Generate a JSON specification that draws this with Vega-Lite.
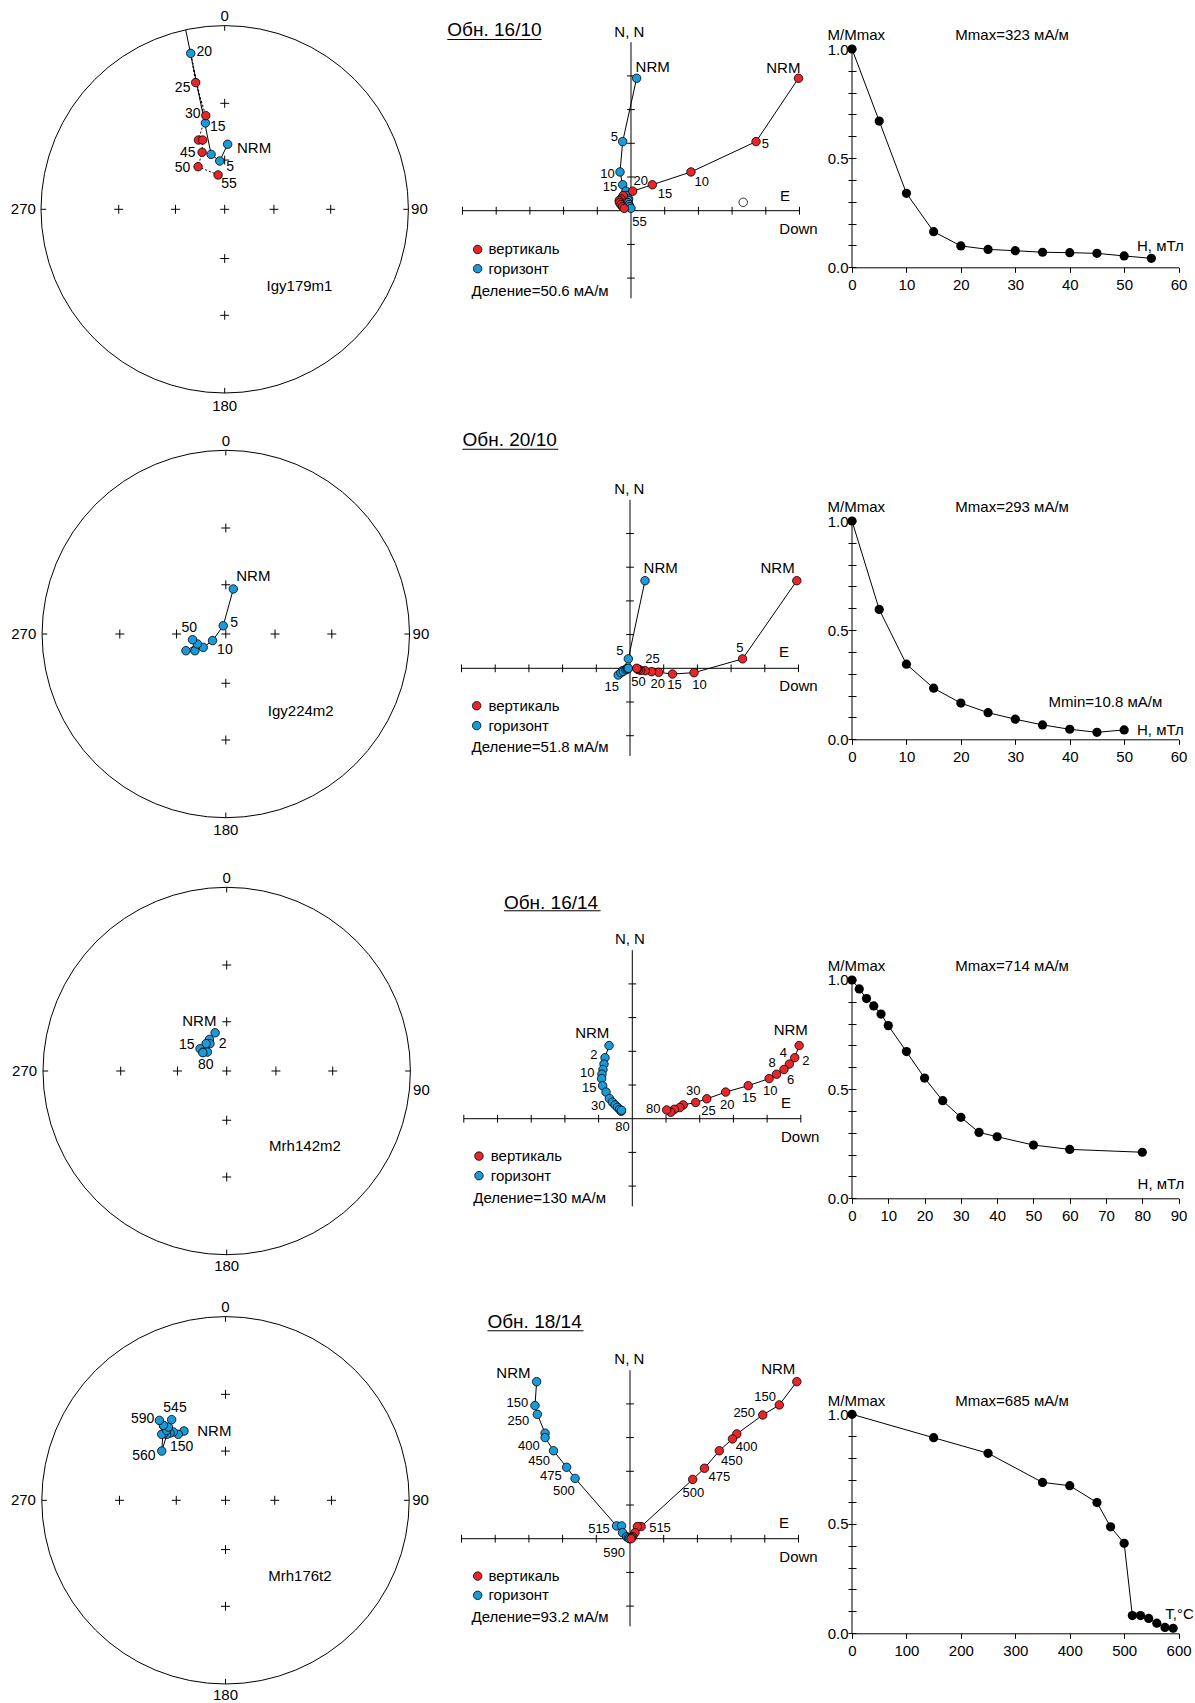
{
"$schema": "https://vega.github.io/schema/vega-lite/v6.json",
"padding": 0,
"background": "white",
"config": {"font": "Liberation Sans", "view": {"stroke": null}},
"datasets": {
"ctr": [{"x": 0, "y": 0}],
"cross": [{"x":0,"y":0},{"x":0.268,"y":0},{"x":0.577,"y":0},{"x":-0.268,"y":0},{"x":-0.577,"y":0},{"x":0,"y":0.268},{"x":0,"y":0.577},{"x":0,"y":-0.268},{"x":0,"y":-0.577}],
"rim": [{"x":0,"y":0.972,"x2":0,"y2":1.0},{"x":0.972,"y":0,"x2":1.0,"y2":0},{"x":0,"y":-0.972,"x2":0,"y2":-1.0},{"x":-0.972,"y":0,"x2":-1.0,"y2":0}],
"s1": [
{"i":0,"s":"NRM","hem":"low","x":0.016,"y":0.354},
{"i":1,"s":"5","hem":"low","x":-0.027,"y":0.263},
{"i":2,"s":"10","hem":"low","x":-0.074,"y":0.299},
{"i":3,"s":"15","hem":"low","x":-0.105,"y":0.470},
{"i":4,"s":"20","hem":"low","x":-0.185,"y":0.849},
{"i":5,"s":"25","hem":"up","x":-0.158,"y":0.690},
{"i":6,"s":"30","hem":"up","x":-0.103,"y":0.510},
{"i":7,"s":"35","hem":"up","x":-0.143,"y":0.377},
{"i":8,"s":"40","hem":"up","x":-0.120,"y":0.377},
{"i":9,"s":"45","hem":"up","x":-0.123,"y":0.310},
{"i":10,"s":"50","hem":"up","x":-0.145,"y":0.232},
{"i":11,"s":"55","hem":"up","x":-0.036,"y":0.187}],
"s1solid": [{"i":0,"x":0.016,"y":0.354},{"i":1,"x":-0.027,"y":0.263},{"i":2,"x":-0.074,"y":0.299},{"i":3,"x":-0.212,"y":0.976}],
"s1lab": [
{"t":"NRM","x":0.160,"y":0.332,"k":"b"},
{"t":"5","x":0.029,"y":0.232,"k":"n"},
{"t":"15","x":-0.038,"y":0.450,"k":"n"},
{"t":"20","x":-0.111,"y":0.855,"k":"n"},
{"t":"25","x":-0.229,"y":0.659,"k":"n"},
{"t":"30","x":-0.174,"y":0.517,"k":"n"},
{"t":"45","x":-0.201,"y":0.309,"k":"n"},
{"t":"50","x":-0.230,"y":0.223,"k":"n"},
{"t":"55","x":0.024,"y":0.136,"k":"n"},
{"t":"Igy179m1","x":0.407,"y":-0.416,"k":"b"},
{"t":"0","x":0,"y":1.054,"k":"b"},
{"t":"90","x":1.06,"y":0,"k":"b"},
{"t":"180","x":0,"y":-1.069,"k":"b"},
{"t":"270","x":-1.096,"y":0,"k":"b"}],
"s2": [
{"i":0,"s":"NRM","hem":"low","x":0.041,"y":0.245},
{"i":1,"s":"5","hem":"low","x":-0.014,"y":0.045},
{"i":2,"s":"10","hem":"low","x":-0.072,"y":-0.036},
{"i":3,"s":"15","hem":"low","x":-0.123,"y":-0.073},
{"i":4,"s":"20","hem":"low","x":-0.168,"y":-0.091},
{"i":5,"s":"25","hem":"low","x":-0.217,"y":-0.091},
{"i":6,"s":"30","hem":"low","x":-0.155,"y":-0.054},
{"i":7,"s":"50","hem":"low","x":-0.181,"y":-0.031}],
"s2lab": [
{"t":"NRM","x":0.150,"y":0.314,"k":"b"},
{"t":"5","x":0.045,"y":0.060,"k":"n"},
{"t":"10","x":-0.005,"y":-0.085,"k":"n"},
{"t":"50","x":-0.199,"y":0.031,"k":"n"},
{"t":"Igy224m2","x":0.408,"y":-0.418,"k":"b"},
{"t":"0","x":0,"y":1.05,"k":"b"},
{"t":"90","x":1.062,"y":0,"k":"b"},
{"t":"180","x":0,"y":-1.068,"k":"b"},
{"t":"270","x":-1.10,"y":0,"k":"b"}],
"s3": [
{"i":0,"s":"NRM","hem":"low","x":-0.063,"y":0.208},
{"i":1,"s":"2","hem":"low","x":-0.094,"y":0.172},
{"i":2,"s":"5","hem":"low","x":-0.091,"y":0.149},
{"i":3,"s":"10","hem":"low","x":-0.112,"y":0.149},
{"i":4,"s":"15","hem":"low","x":-0.145,"y":0.121},
{"i":5,"s":"30","hem":"low","x":-0.127,"y":0.103},
{"i":6,"s":"50","hem":"low","x":-0.105,"y":0.103},
{"i":7,"s":"80","hem":"low","x":-0.130,"y":0.100}],
"s3lab": [
{"t":"NRM","x":-0.149,"y":0.272,"k":"b"},
{"t":"2","x":-0.022,"y":0.149,"k":"n"},
{"t":"15","x":-0.217,"y":0.143,"k":"n"},
{"t":"80","x":-0.114,"y":0.031,"k":"n"},
{"t":"Mrh142m2","x":0.426,"y":-0.409,"k":"b"},
{"t":"0","x":0,"y":1.05,"k":"b"},
{"t":"90","x":1.06,"y":-0.101,"k":"b"},
{"t":"180","x":0,"y":-1.06,"k":"b"},
{"t":"270","x":-1.10,"y":0,"k":"b"}],
"s4": [
{"i":0,"s":"NRM","hem":"low","x":-0.226,"y":0.377},
{"i":1,"s":"150","hem":"low","x":-0.257,"y":0.359},
{"i":2,"s":"250","hem":"low","x":-0.284,"y":0.372},
{"i":3,"s":"350","hem":"low","x":-0.302,"y":0.366},
{"i":4,"s":"400","hem":"low","x":-0.320,"y":0.359},
{"i":5,"s":"450","hem":"low","x":-0.335,"y":0.363},
{"i":6,"s":"475","hem":"low","x":-0.347,"y":0.359},
{"i":7,"s":"500","hem":"low","x":-0.335,"y":0.403},
{"i":8,"s":"515","hem":"low","x":-0.320,"y":0.381},
{"i":9,"s":"530","hem":"low","x":-0.311,"y":0.399},
{"i":10,"s":"545","hem":"low","x":-0.293,"y":0.439},
{"i":11,"s":"560","hem":"low","x":-0.347,"y":0.268},
{"i":12,"s":"575","hem":"low","x":-0.338,"y":0.408},
{"i":13,"s":"590","hem":"low","x":-0.360,"y":0.435}],
"s4lab": [
{"t":"545","x":-0.275,"y":0.504,"k":"n"},
{"t":"590","x":-0.451,"y":0.444,"k":"n"},
{"t":"NRM","x":-0.061,"y":0.377,"k":"b"},
{"t":"150","x":-0.239,"y":0.290,"k":"n"},
{"t":"560","x":-0.444,"y":0.241,"k":"n"},
{"t":"Mrh176t2","x":0.405,"y":-0.413,"k":"b"},
{"t":"0","x":0,"y":1.052,"k":"b"},
{"t":"90","x":1.062,"y":0,"k":"b"},
{"t":"180","x":0,"y":-1.06,"k":"b"},
{"t":"270","x":-1.10,"y":0,"k":"b"}],
"zax": [{"x":-5,"y":0,"x2":5,"y2":0},{"x":0,"y":-2.6,"x2":0,"y2":5}],
"zth": [{"x":-5,"y":0},{"x":-4,"y":0},{"x":-3,"y":0},{"x":-2,"y":0},{"x":-1,"y":0},{"x":1,"y":0},{"x":2,"y":0},{"x":3,"y":0},{"x":4,"y":0},{"x":5,"y":0}],
"ztv": [{"x":0,"y":-2},{"x":0,"y":-1},{"x":0,"y":1},{"x":0,"y":2},{"x":0,"y":3},{"x":0,"y":4}],
"z1": [
{"p":"h","i":0,"x":0.168,"y":3.93},{"p":"h","i":1,"x":-0.247,"y":2.05},{"p":"h","i":2,"x":-0.326,"y":1.15},{"p":"h","i":3,"x":-0.247,"y":0.77},{"p":"h","i":4,"x":-0.15,"y":0.58},{"p":"h","i":5,"x":-0.12,"y":0.45},{"p":"h","i":6,"x":-0.07,"y":0.35},{"p":"h","i":7,"x":-0.08,"y":0.30},{"p":"h","i":8,"x":-0.10,"y":0.24},{"p":"h","i":9,"x":-0.06,"y":0.18},{"p":"h","i":10,"x":-0.04,"y":0.12},{"p":"h","i":11,"x":0.0,"y":0.07},
{"p":"v","i":0,"x":4.97,"y":3.93},{"p":"v","i":1,"x":3.71,"y":2.05},{"p":"v","i":2,"x":1.78,"y":1.15},{"p":"v","i":3,"x":0.633,"y":0.77},{"p":"v","i":4,"x":0.05,"y":0.58},{"p":"v","i":5,"x":-0.23,"y":0.45},{"p":"v","i":6,"x":-0.30,"y":0.35},{"p":"v","i":7,"x":-0.35,"y":0.30},{"p":"v","i":8,"x":-0.34,"y":0.24},{"p":"v","i":9,"x":-0.30,"y":0.18},{"p":"v","i":10,"x":-0.25,"y":0.12},{"p":"v","i":11,"x":-0.20,"y":0.07}],
"z1o": [{"x":3.33,"y":0.25}],
"z1lab": [
{"t":"NRM","x":0.643,"y":4.27,"k":"b"},
{"t":"NRM","x":4.52,"y":4.24,"k":"b"},
{"t":"5","x":-0.49,"y":2.18,"k":"n"},
{"t":"5","x":3.99,"y":1.98,"k":"n"},
{"t":"10","x":-0.70,"y":1.09,"k":"n"},
{"t":"10","x":2.10,"y":0.86,"k":"n"},
{"t":"15","x":-0.62,"y":0.69,"k":"n"},
{"t":"15","x":1.01,"y":0.51,"k":"n"},
{"t":"20","x":0.29,"y":0.88,"k":"n"},
{"t":"55","x":0.25,"y":-0.33,"k":"n"},
{"t":"N, N","x":-0.05,"y":5.31,"k":"b"},
{"t":"E","x":4.57,"y":0.44,"k":"b"},
{"t":"Down","x":4.97,"y":-0.55,"k":"b"}],
"z1L": [
{"t":"Обн. 16/10","x":-5.45,"y":5.36,"k":"title"},
{"t":"вертикаль","x":-4.23,"y":-1.15,"k":"leg"},
{"t":"горизонт","x":-4.23,"y":-1.72,"k":"leg"},
{"t":"Деление=50.6 мА/м","x":-4.73,"y":-2.38,"k":"leg"}],
"z1u": [{"x":-5.45,"x2":-2.65,"y":5.08}],
"z1leg": [{"p":"v","x":-4.55,"y":-1.15},{"p":"h","x":-4.55,"y":-1.72}],
"z2": [
{"p":"h","i":0,"x":0.445,"y":2.60},{"p":"h","i":1,"x":-0.05,"y":0.28},{"p":"h","i":2,"x":-0.22,"y":-0.07},{"p":"h","i":3,"x":-0.35,"y":-0.20},{"p":"h","i":4,"x":-0.27,"y":-0.13},{"p":"h","i":5,"x":-0.20,"y":-0.09},{"p":"h","i":6,"x":-0.10,"y":-0.01},{"p":"h","i":7,"x":-0.12,"y":-0.04},{"p":"h","i":8,"x":-0.08,"y":-0.02},{"p":"h","i":9,"x":-0.06,"y":-0.01},{"p":"h","i":10,"x":-0.05,"y":0.0},
{"p":"v","i":0,"x":4.95,"y":2.60},{"p":"v","i":1,"x":3.34,"y":0.28},{"p":"v","i":2,"x":1.90,"y":-0.13},{"p":"v","i":3,"x":1.26,"y":-0.17},{"p":"v","i":4,"x":0.85,"y":-0.12},{"p":"v","i":5,"x":0.64,"y":-0.10},{"p":"v","i":6,"x":0.45,"y":-0.07},{"p":"v","i":7,"x":0.32,"y":-0.06},{"p":"v","i":8,"x":0.26,"y":-0.04},{"p":"v","i":9,"x":0.22,"y":-0.02},{"p":"v","i":10,"x":0.20,"y":0.0}],
"z2lab": [
{"t":"NRM","x":0.91,"y":2.97,"k":"b"},
{"t":"NRM","x":4.38,"y":2.97,"k":"b"},
{"t":"5","x":-0.30,"y":0.52,"k":"n"},
{"t":"5","x":3.26,"y":0.59,"k":"n"},
{"t":"25","x":0.67,"y":0.27,"k":"n"},
{"t":"50","x":0.25,"y":-0.40,"k":"n"},
{"t":"20","x":0.82,"y":-0.46,"k":"n"},
{"t":"15","x":1.32,"y":-0.51,"k":"n"},
{"t":"10","x":2.06,"y":-0.49,"k":"n"},
{"t":"15","x":-0.54,"y":-0.54,"k":"n"},
{"t":"N, N","x":-0.02,"y":5.32,"k":"b"},
{"t":"E","x":4.57,"y":0.49,"k":"b"},
{"t":"Down","x":5.0,"y":-0.52,"k":"b"}],
"z2L": [
{"t":"Обн. 20/10","x":-4.97,"y":6.78,"k":"title"},
{"t":"вертикаль","x":-4.20,"y":-1.11,"k":"leg"},
{"t":"горизонт","x":-4.20,"y":-1.70,"k":"leg"},
{"t":"Деление=51.8 мА/м","x":-4.70,"y":-2.34,"k":"leg"}],
"z2u": [{"x":-4.97,"x2":-2.13,"y":6.50}],
"z2leg": [{"p":"v","x":-4.55,"y":-1.11},{"p":"h","x":-4.55,"y":-1.70}],
"z3": [
{"p":"h","i":0,"x":-0.69,"y":2.17},{"p":"h","i":1,"x":-0.81,"y":1.81},{"p":"h","i":2,"x":-0.84,"y":1.62},{"p":"h","i":3,"x":-0.87,"y":1.46},{"p":"h","i":4,"x":-0.90,"y":1.32},{"p":"h","i":5,"x":-0.91,"y":1.19},{"p":"h","i":6,"x":-0.88,"y":0.98},{"p":"h","i":7,"x":-0.78,"y":0.79},{"p":"h","i":8,"x":-0.68,"y":0.60},{"p":"h","i":9,"x":-0.59,"y":0.49},{"p":"h","i":10,"x":-0.51,"y":0.41},{"p":"h","i":11,"x":-0.44,"y":0.34},{"p":"h","i":12,"x":-0.38,"y":0.28},{"p":"h","i":13,"x":-0.33,"y":0.22},{"p":"h","i":14,"x":-0.32,"y":0.25},
{"p":"v","i":0,"x":4.95,"y":2.17},{"p":"v","i":1,"x":4.82,"y":1.81},{"p":"v","i":2,"x":4.66,"y":1.62},{"p":"v","i":3,"x":4.50,"y":1.46},{"p":"v","i":4,"x":4.28,"y":1.32},{"p":"v","i":5,"x":4.06,"y":1.19},{"p":"v","i":6,"x":3.44,"y":0.98},{"p":"v","i":7,"x":2.77,"y":0.79},{"p":"v","i":8,"x":2.21,"y":0.59},{"p":"v","i":9,"x":1.88,"y":0.48},{"p":"v","i":10,"x":1.51,"y":0.41},{"p":"v","i":11,"x":1.41,"y":0.33},{"p":"v","i":12,"x":1.25,"y":0.28},{"p":"v","i":13,"x":1.14,"y":0.19},{"p":"v","i":14,"x":1.02,"y":0.26}],
"z3lab": [
{"t":"NRM","x":-1.19,"y":2.55,"k":"b"},
{"t":"NRM","x":4.70,"y":2.63,"k":"b"},
{"t":"2","x":-1.14,"y":1.89,"k":"n"},
{"t":"10","x":-1.34,"y":1.36,"k":"n"},
{"t":"15","x":-1.28,"y":0.90,"k":"n"},
{"t":"30","x":-1.01,"y":0.38,"k":"n"},
{"t":"80","x":-0.29,"y":-0.24,"k":"n"},
{"t":"80","x":0.62,"y":0.28,"k":"n"},
{"t":"30","x":1.81,"y":0.83,"k":"n"},
{"t":"25","x":2.26,"y":0.24,"k":"n"},
{"t":"20","x":2.82,"y":0.41,"k":"n"},
{"t":"15","x":3.47,"y":0.62,"k":"n"},
{"t":"10","x":4.09,"y":0.83,"k":"n"},
{"t":"8","x":4.15,"y":1.66,"k":"n"},
{"t":"4","x":4.48,"y":1.94,"k":"n"},
{"t":"2","x":5.15,"y":1.72,"k":"n"},
{"t":"6","x":4.70,"y":1.15,"k":"n"},
{"t":"N, N","x":-0.07,"y":5.32,"k":"b"},
{"t":"E","x":4.56,"y":0.47,"k":"b"},
{"t":"Down","x":4.98,"y":-0.53,"k":"b"}],
"z3L": [
{"t":"Обн. 16/14","x":-3.81,"y":6.41,"k":"title"},
{"t":"вертикаль","x":-4.20,"y":-1.11,"k":"leg"},
{"t":"горизонт","x":-4.20,"y":-1.69,"k":"leg"},
{"t":"Деление=130 мА/м","x":-4.72,"y":-2.36,"k":"leg"}],
"z3u": [{"x":-3.81,"x2":-0.94,"y":6.17}],
"z3leg": [{"p":"v","x":-4.55,"y":-1.11},{"p":"h","x":-4.55,"y":-1.69}],
"z4": [
{"p":"h","i":0,"x":-2.77,"y":4.66},{"p":"h","i":1,"x":-2.82,"y":3.95},{"p":"h","i":2,"x":-2.75,"y":3.69},{"p":"h","i":3,"x":-2.52,"y":3.13},{"p":"h","i":4,"x":-2.52,"y":3.00},{"p":"h","i":5,"x":-2.27,"y":2.61},{"p":"h","i":6,"x":-1.88,"y":2.12},{"p":"h","i":7,"x":-1.63,"y":1.79},{"p":"h","i":8,"x":-0.40,"y":0.38},{"p":"h","i":9,"x":-0.25,"y":0.38},{"p":"h","i":10,"x":-0.22,"y":0.18},{"p":"h","i":11,"x":-0.10,"y":0.06},{"p":"h","i":12,"x":-0.05,"y":0.03},{"p":"h","i":13,"x":-0.02,"y":0.0},
{"p":"v","i":0,"x":4.95,"y":4.66},{"p":"v","i":1,"x":4.43,"y":3.97},{"p":"v","i":2,"x":3.94,"y":3.67},{"p":"v","i":3,"x":3.17,"y":3.11},{"p":"v","i":4,"x":3.04,"y":2.96},{"p":"v","i":5,"x":2.65,"y":2.61},{"p":"v","i":6,"x":2.21,"y":2.09},{"p":"v","i":7,"x":1.86,"y":1.76},{"p":"v","i":8,"x":0.33,"y":0.36},{"p":"v","i":9,"x":0.22,"y":0.36},{"p":"v","i":10,"x":0.15,"y":0.18},{"p":"v","i":11,"x":0.08,"y":0.06},{"p":"v","i":12,"x":0.05,"y":0.03},{"p":"v","i":13,"x":0.03,"y":0.0}],
"z4lab": [
{"t":"NRM","x":-3.46,"y":4.91,"k":"b"},
{"t":"NRM","x":4.40,"y":5.05,"k":"b"},
{"t":"150","x":-3.34,"y":4.02,"k":"n"},
{"t":"250","x":-3.31,"y":3.50,"k":"n"},
{"t":"400","x":-3.00,"y":2.75,"k":"n"},
{"t":"450","x":-2.70,"y":2.30,"k":"n"},
{"t":"475","x":-2.35,"y":1.86,"k":"n"},
{"t":"500","x":-1.96,"y":1.41,"k":"n"},
{"t":"515","x":-0.92,"y":0.30,"k":"n"},
{"t":"150","x":4.01,"y":4.19,"k":"n"},
{"t":"250","x":3.39,"y":3.72,"k":"n"},
{"t":"400","x":3.46,"y":2.73,"k":"n"},
{"t":"450","x":3.02,"y":2.30,"k":"n"},
{"t":"475","x":2.65,"y":1.84,"k":"n"},
{"t":"500","x":1.88,"y":1.35,"k":"n"},
{"t":"515","x":0.89,"y":0.31,"k":"n"},
{"t":"590","x":-0.47,"y":-0.42,"k":"n"},
{"t":"N, N","x":-0.02,"y":5.32,"k":"b"},
{"t":"E","x":4.57,"y":0.455,"k":"b"},
{"t":"Down","x":5.0,"y":-0.53,"k":"b"}],
"z4L": [
{"t":"Обн. 18/14","x":-4.23,"y":6.44,"k":"title"},
{"t":"вертикаль","x":-4.20,"y":-1.11,"k":"leg"},
{"t":"горизонт","x":-4.20,"y":-1.68,"k":"leg"},
{"t":"Деление=93.2 мА/м","x":-4.70,"y":-2.33,"k":"leg"}],
"z4u": [{"x":-4.23,"x2":-1.38,"y":6.17}],
"z4leg": [{"p":"v","x":-4.52,"y":-1.11},{"p":"h","x":-4.52,"y":-1.68}],
"dyax": [{"x":0,"y":0,"y2":1}],
"d1": [{"x":0,"y":1},{"x":5,"y":0.670},{"x":10,"y":0.339},{"x":15,"y":0.163},{"x":20,"y":0.098},{"x":25,"y":0.082},{"x":30,"y":0.076},{"x":35,"y":0.069},{"x":40,"y":0.067},{"x":45,"y":0.064},{"x":50,"y":0.052},{"x":55,"y":0.041}],
"d1lab": [{"t":"M/Mmax","x":-4.48,"y":1.064},{"t":"Mmax=323 мА/м","x":18.98,"y":1.064},{"t":"H, мТл","x":52.36,"y":0.0976}],
"d2": [{"x":0,"y":1},{"x":5,"y":0.595},{"x":10,"y":0.344},{"x":15,"y":0.234},{"x":20,"y":0.166},{"x":25,"y":0.122},{"x":30,"y":0.092},{"x":35,"y":0.066},{"x":40,"y":0.046},{"x":45,"y":0.032},{"x":50,"y":0.043}],
"d2lab": [{"t":"M/Mmax","x":-4.48,"y":1.063},{"t":"Mmax=293 мА/м","x":18.98,"y":1.063},{"t":"Mmin=10.8 мА/м","x":36.12,"y":0.169},{"t":"H, мТл","x":52.36,"y":0.0426}],
"d3": [{"x":0,"y":1},{"x":2,"y":0.959},{"x":4,"y":0.915},{"x":6,"y":0.881},{"x":8,"y":0.844},{"x":10,"y":0.791},{"x":15,"y":0.672},{"x":20,"y":0.551},{"x":25,"y":0.447},{"x":30,"y":0.371},{"x":35,"y":0.302},{"x":40,"y":0.282},{"x":50,"y":0.244},{"x":60,"y":0.224},{"x":80,"y":0.211}],
"d3lab": [{"t":"M/Mmax","x":-6.69,"y":1.0655},{"t":"Mmax=714 мА/м","x":28.46,"y":1.0655},{"t":"H, мТл","x":78.7,"y":0.064}],
"d4": [{"x":0,"y":1},{"x":150,"y":0.893},{"x":250,"y":0.822},{"x":350,"y":0.689},{"x":400,"y":0.674},{"x":450,"y":0.597},{"x":475,"y":0.486},{"x":500,"y":0.411},{"x":515,"y":0.081},{"x":530,"y":0.081},{"x":545,"y":0.068},{"x":560,"y":0.046},{"x":575,"y":0.027},{"x":590,"y":0.023}],
"d4lab": [{"t":"M/Mmax","x":-44.6,"y":1.062},{"t":"Mmax=685 мА/м","x":189.7,"y":1.062},{"t":"T,°C","x":575.4,"y":0.088}]
},
"columns": 3,
"spacing": 0,
"bounds": "flush",
"resolve": {"scale": {"fill": "independent"}},
"concat": [
 {"width": 430, "height": 425,
  "encoding": {"x": {"field":"x","type":"quantitative","scale":{"domain":[-1.2232,1.1176],"nice":false,"zero":false},"axis":null},
               "y": {"field":"y","type":"quantitative","scale":{"domain":[-1.1742,1.1394],"nice":false,"zero":false},"axis":null}},
  "layer": [
   {"data":{"name":"ctr"},"mark":{"type":"point","shape":"circle","size":134983,"filled":false,"color":"black","strokeWidth":1,"opacity":1}},
   {"data":{"name":"cross"},"mark":{"type":"point","shape":"M-1,0L1,0M0,-1L0,1","size":80,"filled":false,"color":"black","strokeWidth":1,"opacity":1}},
   {"data":{"name":"rim"},"mark":{"type":"rule","color":"black","strokeWidth":1},"encoding":{"x2":{"field":"x2"},"y2":{"field":"y2"}}},
   {"data":{"name":"s1solid"},"mark":{"type":"line","color":"black","strokeWidth":1},"encoding":{"order":{"field":"i","type":"quantitative"}}},
   {"data":{"name":"s1"},"transform":[{"filter":"datum.i >= 3"}],"mark":{"type":"line","color":"black","strokeWidth":1,"strokeDash":[2,2]},"encoding":{"order":{"field":"i","type":"quantitative"}}},
   {"data":{"name":"s1"},"mark":{"type":"point","filled":true,"size":72,"stroke":"black","strokeWidth":0.8,"opacity":1},"encoding":{"fill":{"field":"hem","type":"nominal","scale":{"domain":["low","up"],"range":["#1b9ad8","#e5262b"]},"legend":null}}},
   {"data":{"name":"s1lab"},"transform":[{"filter":"datum.k == 'n'"}],"mark":{"type":"text","fontSize":14,"align":"center","baseline":"middle","color":"black"},"encoding":{"text":{"field":"t"}}},
   {"data":{"name":"s1lab"},"transform":[{"filter":"datum.k == 'b'"}],"mark":{"type":"text","fontSize":15,"align":"center","baseline":"middle","color":"black"},"encoding":{"text":{"field":"t"}}}
  ]},
 {"width": 421.5, "height": 425,
  "encoding": {"x": {"field":"x","type":"quantitative","scale":{"domain":[-5.964,6.543],"nice":false,"zero":false},"axis":null},
               "y": {"field":"y","type":"quantitative","scale":{"domain":[-6.359,6.252],"nice":false,"zero":false},"axis":null}},
  "layer": [
   {"data":{"name":"zax"},"mark":{"type":"rule","color":"black","strokeWidth":1},"encoding":{"x2":{"field":"x2"},"y2":{"field":"y2"}}},
   {"data":{"name":"zth"},"mark":{"type":"point","shape":"M0,-1L0,1","size":60,"filled":false,"color":"black","strokeWidth":1,"opacity":1}},
   {"data":{"name":"ztv"},"mark":{"type":"point","shape":"M-1,0L1,0","size":60,"filled":false,"color":"black","strokeWidth":1,"opacity":1}},
   {"data":{"name":"z1"},"mark":{"type":"line","color":"black","strokeWidth":1},"encoding":{"detail":{"field":"p"},"order":{"field":"i","type":"quantitative"}}},
   {"data":{"name":"z1"},"mark":{"type":"point","filled":true,"size":72,"stroke":"black","strokeWidth":0.8,"opacity":1},"encoding":{"fill":{"field":"p","type":"nominal","scale":{"domain":["h","v"],"range":["#1b9ad8","#e5262b"]},"legend":null}}},
   {"data":{"name":"z1o"},"mark":{"type":"point","filled":true,"fill":"white","size":72,"stroke":"black","strokeWidth":0.8,"opacity":1}},
   {"data":{"name":"z1leg"},"mark":{"type":"point","filled":true,"size":72,"stroke":"black","strokeWidth":0.8,"opacity":1},"encoding":{"fill":{"field":"p","type":"nominal","scale":{"domain":["h","v"],"range":["#1b9ad8","#e5262b"]},"legend":null}}},
   {"data":{"name":"z1u"},"mark":{"type":"rule","color":"black","strokeWidth":1},"encoding":{"x2":{"field":"x2"}}},
   {"data":{"name":"z1lab"},"transform":[{"filter":"datum.k == 'n'"}],"mark":{"type":"text","fontSize":13,"align":"center","baseline":"middle","color":"black"},"encoding":{"text":{"field":"t"}}},
   {"data":{"name":"z1lab"},"transform":[{"filter":"datum.k == 'b'"}],"mark":{"type":"text","fontSize":15,"align":"center","baseline":"middle","color":"black"},"encoding":{"text":{"field":"t"}}},
   {"data":{"name":"z1L"},"transform":[{"filter":"datum.k == 'title'"}],"mark":{"type":"text","fontSize":19,"align":"left","baseline":"middle","color":"black"},"encoding":{"text":{"field":"t"}}},
   {"data":{"name":"z1L"},"transform":[{"filter":"datum.k == 'leg'"}],"mark":{"type":"text","fontSize":15,"align":"left","baseline":"middle","color":"black"},"encoding":{"text":{"field":"t"}}}
  ]},
 {"width": 326.6, "height": 267.3,
  "encoding": {"x": {"field":"x","type":"quantitative","scale":{"domain":[0,60],"nice":false,"zero":false},"axis":{"values":[0,10,20,30,40,50,60],"format":"d","title":null,"grid":false,"domainColor":"black","tickColor":"black","labelColor":"black","tickSize":5,"labelPadding":5,"labelFontSize":15,"labelFlush":false,"labelOverlap":false}},
               "y": {"field":"y","type":"quantitative","scale":{"domain":[0,1.2245],"nice":false,"zero":false},"axis":{"values":[0,0.1,0.2,0.3,0.4,0.5,0.6,0.7,0.8,0.9,1],"labelExpr":"datum.value == 0 || datum.value == 0.5 || datum.value == 1 ? format(datum.value, '.1f') : ''","title":null,"grid":false,"domain":false,"tickColor":"black","labelColor":"black","tickSize":8,"offset":-4,"labelPadding":0,"labelFontSize":15,"labelOverlap":false}}},
  "layer": [
   {"data":{"name":"dyax"},"mark":{"type":"rule","color":"black","strokeWidth":1},"encoding":{"y2":{"field":"y2"}}},
   {"data":{"name":"d1"},"mark":{"type":"line","color":"black","strokeWidth":1}},
   {"data":{"name":"d1"},"mark":{"type":"point","filled":true,"color":"black","size":85,"opacity":1}},
   {"data":{"name":"d1lab"},"mark":{"type":"text","fontSize":15,"align":"left","baseline":"middle","color":"black"},"encoding":{"text":{"field":"t"}}}
  ]},
 {"width": 430, "height": 430,
  "encoding": {"x": {"field":"x","type":"quantitative","scale":{"domain":[-1.2292,1.1116],"nice":false,"zero":false},"axis":null},
               "y": {"field":"y","type":"quantitative","scale":{"domain":[-1.2030,1.1377],"nice":false,"zero":false},"axis":null}},
  "layer": [
   {"data":{"name":"ctr"},"mark":{"type":"point","shape":"circle","size":134983,"filled":false,"color":"black","strokeWidth":1,"opacity":1}},
   {"data":{"name":"cross"},"mark":{"type":"point","shape":"M-1,0L1,0M0,-1L0,1","size":80,"filled":false,"color":"black","strokeWidth":1,"opacity":1}},
   {"data":{"name":"rim"},"mark":{"type":"rule","color":"black","strokeWidth":1},"encoding":{"x2":{"field":"x2"},"y2":{"field":"y2"}}},
   {"data":{"name":"s2"},"mark":{"type":"line","color":"black","strokeWidth":1},"encoding":{"order":{"field":"i","type":"quantitative"}}},
   {"data":{"name":"s2"},"mark":{"type":"point","filled":true,"size":72,"stroke":"black","strokeWidth":0.8,"opacity":1},"encoding":{"fill":{"field":"hem","type":"nominal","scale":{"domain":["low","up"],"range":["#1b9ad8","#e5262b"]},"legend":null}}},
   {"data":{"name":"s2lab"},"transform":[{"filter":"datum.k == 'n'"}],"mark":{"type":"text","fontSize":14,"align":"center","baseline":"middle","color":"black"},"encoding":{"text":{"field":"t"}}},
   {"data":{"name":"s2lab"},"transform":[{"filter":"datum.k == 'b'"}],"mark":{"type":"text","fontSize":15,"align":"center","baseline":"middle","color":"black"},"encoding":{"text":{"field":"t"}}}
  ]},
 {"width": 421.5, "height": 430,
  "encoding": {"x": {"field":"x","type":"quantitative","scale":{"domain":[-5.935,6.573],"nice":false,"zero":false},"axis":null},
               "y": {"field":"y","type":"quantitative","scale":{"domain":[-5.540,7.220],"nice":false,"zero":false},"axis":null}},
  "layer": [
   {"data":{"name":"zax"},"mark":{"type":"rule","color":"black","strokeWidth":1},"encoding":{"x2":{"field":"x2"},"y2":{"field":"y2"}}},
   {"data":{"name":"zth"},"mark":{"type":"point","shape":"M0,-1L0,1","size":60,"filled":false,"color":"black","strokeWidth":1,"opacity":1}},
   {"data":{"name":"ztv"},"mark":{"type":"point","shape":"M-1,0L1,0","size":60,"filled":false,"color":"black","strokeWidth":1,"opacity":1}},
   {"data":{"name":"z2"},"mark":{"type":"line","color":"black","strokeWidth":1},"encoding":{"detail":{"field":"p"},"order":{"field":"i","type":"quantitative"}}},
   {"data":{"name":"z2"},"mark":{"type":"point","filled":true,"size":72,"stroke":"black","strokeWidth":0.8,"opacity":1},"encoding":{"fill":{"field":"p","type":"nominal","scale":{"domain":["h","v"],"range":["#1b9ad8","#e5262b"]},"legend":null}}},
   {"data":{"name":"z2leg"},"mark":{"type":"point","filled":true,"size":72,"stroke":"black","strokeWidth":0.8,"opacity":1},"encoding":{"fill":{"field":"p","type":"nominal","scale":{"domain":["h","v"],"range":["#1b9ad8","#e5262b"]},"legend":null}}},
   {"data":{"name":"z2u"},"mark":{"type":"rule","color":"black","strokeWidth":1},"encoding":{"x2":{"field":"x2"}}},
   {"data":{"name":"z2lab"},"transform":[{"filter":"datum.k == 'n'"}],"mark":{"type":"text","fontSize":13,"align":"center","baseline":"middle","color":"black"},"encoding":{"text":{"field":"t"}}},
   {"data":{"name":"z2lab"},"transform":[{"filter":"datum.k == 'b'"}],"mark":{"type":"text","fontSize":15,"align":"center","baseline":"middle","color":"black"},"encoding":{"text":{"field":"t"}}},
   {"data":{"name":"z2L"},"transform":[{"filter":"datum.k == 'title'"}],"mark":{"type":"text","fontSize":19,"align":"left","baseline":"middle","color":"black"},"encoding":{"text":{"field":"t"}}},
   {"data":{"name":"z2L"},"transform":[{"filter":"datum.k == 'leg'"}],"mark":{"type":"text","fontSize":15,"align":"left","baseline":"middle","color":"black"},"encoding":{"text":{"field":"t"}}}
  ]},
 {"width": 326.6, "height": 314.3,
  "encoding": {"x": {"field":"x","type":"quantitative","scale":{"domain":[0,60],"nice":false,"zero":false},"axis":{"values":[0,10,20,30,40,50,60],"format":"d","title":null,"grid":false,"domainColor":"black","tickColor":"black","labelColor":"black","tickSize":5,"labelPadding":5,"labelFontSize":15,"labelFlush":false,"labelOverlap":false}},
               "y": {"field":"y","type":"quantitative","scale":{"domain":[0,1.4398],"nice":false,"zero":false},"axis":{"values":[0,0.1,0.2,0.3,0.4,0.5,0.6,0.7,0.8,0.9,1],"labelExpr":"datum.value == 0 || datum.value == 0.5 || datum.value == 1 ? format(datum.value, '.1f') : ''","title":null,"grid":false,"domain":false,"tickColor":"black","labelColor":"black","tickSize":8,"offset":-4,"labelPadding":0,"labelFontSize":15,"labelOverlap":false}}},
  "layer": [
   {"data":{"name":"dyax"},"mark":{"type":"rule","color":"black","strokeWidth":1},"encoding":{"y2":{"field":"y2"}}},
   {"data":{"name":"d2"},"mark":{"type":"line","color":"black","strokeWidth":1}},
   {"data":{"name":"d2"},"mark":{"type":"point","filled":true,"color":"black","size":85,"opacity":1}},
   {"data":{"name":"d2lab"},"mark":{"type":"text","fontSize":15,"align":"left","baseline":"middle","color":"black"},"encoding":{"text":{"field":"t"}}}
  ]},
 {"width": 430, "height": 430,
  "encoding": {"x": {"field":"x","type":"quantitative","scale":{"domain":[-1.2341,1.1067],"nice":false,"zero":false},"axis":null},
               "y": {"field":"y","type":"quantitative","scale":{"domain":[-1.1649,1.1758],"nice":false,"zero":false},"axis":null}},
  "layer": [
   {"data":{"name":"ctr"},"mark":{"type":"point","shape":"circle","size":134983,"filled":false,"color":"black","strokeWidth":1,"opacity":1}},
   {"data":{"name":"cross"},"mark":{"type":"point","shape":"M-1,0L1,0M0,-1L0,1","size":80,"filled":false,"color":"black","strokeWidth":1,"opacity":1}},
   {"data":{"name":"rim"},"mark":{"type":"rule","color":"black","strokeWidth":1},"encoding":{"x2":{"field":"x2"},"y2":{"field":"y2"}}},
   {"data":{"name":"s3"},"mark":{"type":"line","color":"black","strokeWidth":1},"encoding":{"order":{"field":"i","type":"quantitative"}}},
   {"data":{"name":"s3"},"mark":{"type":"point","filled":true,"size":72,"stroke":"black","strokeWidth":0.8,"opacity":1},"encoding":{"fill":{"field":"hem","type":"nominal","scale":{"domain":["low","up"],"range":["#1b9ad8","#e5262b"]},"legend":null}}},
   {"data":{"name":"s3lab"},"transform":[{"filter":"datum.k == 'n'"}],"mark":{"type":"text","fontSize":14,"align":"center","baseline":"middle","color":"black"},"encoding":{"text":{"field":"t"}}},
   {"data":{"name":"s3lab"},"transform":[{"filter":"datum.k == 'b'"}],"mark":{"type":"text","fontSize":15,"align":"center","baseline":"middle","color":"black"},"encoding":{"text":{"field":"t"}}}
  ]},
 {"width": 421.5, "height": 430,
  "encoding": {"x": {"field":"x","type":"quantitative","scale":{"domain":[-6.003,6.504],"nice":false,"zero":false},"axis":null},
               "y": {"field":"y","type":"quantitative","scale":{"domain":[-4.935,7.825],"nice":false,"zero":false},"axis":null}},
  "layer": [
   {"data":{"name":"zax"},"mark":{"type":"rule","color":"black","strokeWidth":1},"encoding":{"x2":{"field":"x2"},"y2":{"field":"y2"}}},
   {"data":{"name":"zth"},"mark":{"type":"point","shape":"M0,-1L0,1","size":60,"filled":false,"color":"black","strokeWidth":1,"opacity":1}},
   {"data":{"name":"ztv"},"mark":{"type":"point","shape":"M-1,0L1,0","size":60,"filled":false,"color":"black","strokeWidth":1,"opacity":1}},
   {"data":{"name":"z3"},"mark":{"type":"line","color":"black","strokeWidth":1},"encoding":{"detail":{"field":"p"},"order":{"field":"i","type":"quantitative"}}},
   {"data":{"name":"z3"},"mark":{"type":"point","filled":true,"size":72,"stroke":"black","strokeWidth":0.8,"opacity":1},"encoding":{"fill":{"field":"p","type":"nominal","scale":{"domain":["h","v"],"range":["#1b9ad8","#e5262b"]},"legend":null}}},
   {"data":{"name":"z3leg"},"mark":{"type":"point","filled":true,"size":72,"stroke":"black","strokeWidth":0.8,"opacity":1},"encoding":{"fill":{"field":"p","type":"nominal","scale":{"domain":["h","v"],"range":["#1b9ad8","#e5262b"]},"legend":null}}},
   {"data":{"name":"z3u"},"mark":{"type":"rule","color":"black","strokeWidth":1},"encoding":{"x2":{"field":"x2"}}},
   {"data":{"name":"z3lab"},"transform":[{"filter":"datum.k == 'n'"}],"mark":{"type":"text","fontSize":13,"align":"center","baseline":"middle","color":"black"},"encoding":{"text":{"field":"t"}}},
   {"data":{"name":"z3lab"},"transform":[{"filter":"datum.k == 'b'"}],"mark":{"type":"text","fontSize":15,"align":"center","baseline":"middle","color":"black"},"encoding":{"text":{"field":"t"}}},
   {"data":{"name":"z3L"},"transform":[{"filter":"datum.k == 'title'"}],"mark":{"type":"text","fontSize":19,"align":"left","baseline":"middle","color":"black"},"encoding":{"text":{"field":"t"}}},
   {"data":{"name":"z3L"},"transform":[{"filter":"datum.k == 'leg'"}],"mark":{"type":"text","fontSize":15,"align":"left","baseline":"middle","color":"black"},"encoding":{"text":{"field":"t"}}}
  ]},
 {"width": 326.6, "height": 343.3,
  "encoding": {"x": {"field":"x","type":"quantitative","scale":{"domain":[0,90],"nice":false,"zero":false},"axis":{"values":[0,10,20,30,40,50,60,70,80,90],"format":"d","title":null,"grid":false,"domainColor":"black","tickColor":"black","labelColor":"black","tickSize":5,"labelPadding":5,"labelFontSize":15,"labelFlush":false,"labelOverlap":false}},
               "y": {"field":"y","type":"quantitative","scale":{"domain":[0,1.5726],"nice":false,"zero":false},"axis":{"values":[0,0.1,0.2,0.3,0.4,0.5,0.6,0.7,0.8,0.9,1],"labelExpr":"datum.value == 0 || datum.value == 0.5 || datum.value == 1 ? format(datum.value, '.1f') : ''","title":null,"grid":false,"domain":false,"tickColor":"black","labelColor":"black","tickSize":8,"offset":-4,"labelPadding":0,"labelFontSize":15,"labelOverlap":false}}},
  "layer": [
   {"data":{"name":"dyax"},"mark":{"type":"rule","color":"black","strokeWidth":1},"encoding":{"y2":{"field":"y2"}}},
   {"data":{"name":"d3"},"mark":{"type":"line","color":"black","strokeWidth":1}},
   {"data":{"name":"d3"},"mark":{"type":"point","filled":true,"color":"black","size":85,"opacity":1}},
   {"data":{"name":"d3lab"},"mark":{"type":"text","fontSize":15,"align":"left","baseline":"middle","color":"black"},"encoding":{"text":{"field":"t"}}}
  ]},
 {"width": 430, "height": 418,
  "encoding": {"x": {"field":"x","type":"quantitative","scale":{"domain":[-1.2275,1.1132],"nice":false,"zero":false},"axis":null},
               "y": {"field":"y","type":"quantitative","scale":{"domain":[-1.1034,1.1720],"nice":false,"zero":false},"axis":null}},
  "layer": [
   {"data":{"name":"ctr"},"mark":{"type":"point","shape":"circle","size":134983,"filled":false,"color":"black","strokeWidth":1,"opacity":1}},
   {"data":{"name":"cross"},"mark":{"type":"point","shape":"M-1,0L1,0M0,-1L0,1","size":80,"filled":false,"color":"black","strokeWidth":1,"opacity":1}},
   {"data":{"name":"rim"},"mark":{"type":"rule","color":"black","strokeWidth":1},"encoding":{"x2":{"field":"x2"},"y2":{"field":"y2"}}},
   {"data":{"name":"s4"},"mark":{"type":"line","color":"black","strokeWidth":1},"encoding":{"order":{"field":"i","type":"quantitative"}}},
   {"data":{"name":"s4"},"mark":{"type":"point","filled":true,"size":72,"stroke":"black","strokeWidth":0.8,"opacity":1},"encoding":{"fill":{"field":"hem","type":"nominal","scale":{"domain":["low","up"],"range":["#1b9ad8","#e5262b"]},"legend":null}}},
   {"data":{"name":"s4lab"},"transform":[{"filter":"datum.k == 'n'"}],"mark":{"type":"text","fontSize":14,"align":"center","baseline":"middle","color":"black"},"encoding":{"text":{"field":"t"}}},
   {"data":{"name":"s4lab"},"transform":[{"filter":"datum.k == 'b'"}],"mark":{"type":"text","fontSize":15,"align":"center","baseline":"middle","color":"black"},"encoding":{"text":{"field":"t"}}}
  ]},
 {"width": 421.5, "height": 418,
  "encoding": {"x": {"field":"x","type":"quantitative","scale":{"domain":[-5.935,6.573],"nice":false,"zero":false},"axis":null},
               "y": {"field":"y","type":"quantitative","scale":{"domain":[-4.875,7.528],"nice":false,"zero":false},"axis":null}},
  "layer": [
   {"data":{"name":"zax"},"mark":{"type":"rule","color":"black","strokeWidth":1},"encoding":{"x2":{"field":"x2"},"y2":{"field":"y2"}}},
   {"data":{"name":"zth"},"mark":{"type":"point","shape":"M0,-1L0,1","size":60,"filled":false,"color":"black","strokeWidth":1,"opacity":1}},
   {"data":{"name":"ztv"},"mark":{"type":"point","shape":"M-1,0L1,0","size":60,"filled":false,"color":"black","strokeWidth":1,"opacity":1}},
   {"data":{"name":"z4"},"mark":{"type":"line","color":"black","strokeWidth":1},"encoding":{"detail":{"field":"p"},"order":{"field":"i","type":"quantitative"}}},
   {"data":{"name":"z4"},"mark":{"type":"point","filled":true,"size":72,"stroke":"black","strokeWidth":0.8,"opacity":1},"encoding":{"fill":{"field":"p","type":"nominal","scale":{"domain":["h","v"],"range":["#1b9ad8","#e5262b"]},"legend":null}}},
   {"data":{"name":"z4leg"},"mark":{"type":"point","filled":true,"size":72,"stroke":"black","strokeWidth":0.8,"opacity":1},"encoding":{"fill":{"field":"p","type":"nominal","scale":{"domain":["h","v"],"range":["#1b9ad8","#e5262b"]},"legend":null}}},
   {"data":{"name":"z4u"},"mark":{"type":"rule","color":"black","strokeWidth":1},"encoding":{"x2":{"field":"x2"}}},
   {"data":{"name":"z4lab"},"transform":[{"filter":"datum.k == 'n'"}],"mark":{"type":"text","fontSize":13,"align":"center","baseline":"middle","color":"black"},"encoding":{"text":{"field":"t"}}},
   {"data":{"name":"z4lab"},"transform":[{"filter":"datum.k == 'b'"}],"mark":{"type":"text","fontSize":15,"align":"center","baseline":"middle","color":"black"},"encoding":{"text":{"field":"t"}}},
   {"data":{"name":"z4L"},"transform":[{"filter":"datum.k == 'title'"}],"mark":{"type":"text","fontSize":19,"align":"left","baseline":"middle","color":"black"},"encoding":{"text":{"field":"t"}}},
   {"data":{"name":"z4L"},"transform":[{"filter":"datum.k == 'leg'"}],"mark":{"type":"text","fontSize":15,"align":"left","baseline":"middle","color":"black"},"encoding":{"text":{"field":"t"}}}
  ]},
 {"width": 326.6, "height": 348.3,
  "encoding": {"x": {"field":"x","type":"quantitative","scale":{"domain":[0,600],"nice":false,"zero":false},"axis":{"values":[0,100,200,300,400,500,600],"format":"d","title":null,"grid":false,"domainColor":"black","tickColor":"black","labelColor":"black","tickSize":5,"labelPadding":5,"labelFontSize":15,"labelFlush":false,"labelOverlap":false}},
               "y": {"field":"y","type":"quantitative","scale":{"domain":[0,1.5904],"nice":false,"zero":false},"axis":{"values":[0,0.1,0.2,0.3,0.4,0.5,0.6,0.7,0.8,0.9,1],"labelExpr":"datum.value == 0 || datum.value == 0.5 || datum.value == 1 ? format(datum.value, '.1f') : ''","title":null,"grid":false,"domain":false,"tickColor":"black","labelColor":"black","tickSize":8,"offset":-4,"labelPadding":0,"labelFontSize":15,"labelOverlap":false}}},
  "layer": [
   {"data":{"name":"dyax"},"mark":{"type":"rule","color":"black","strokeWidth":1},"encoding":{"y2":{"field":"y2"}}},
   {"data":{"name":"d4"},"mark":{"type":"line","color":"black","strokeWidth":1}},
   {"data":{"name":"d4"},"mark":{"type":"point","filled":true,"color":"black","size":85,"opacity":1}},
   {"data":{"name":"d4lab"},"mark":{"type":"text","fontSize":15,"align":"left","baseline":"middle","color":"black"},"encoding":{"text":{"field":"t"}}}
  ]}
]
}
